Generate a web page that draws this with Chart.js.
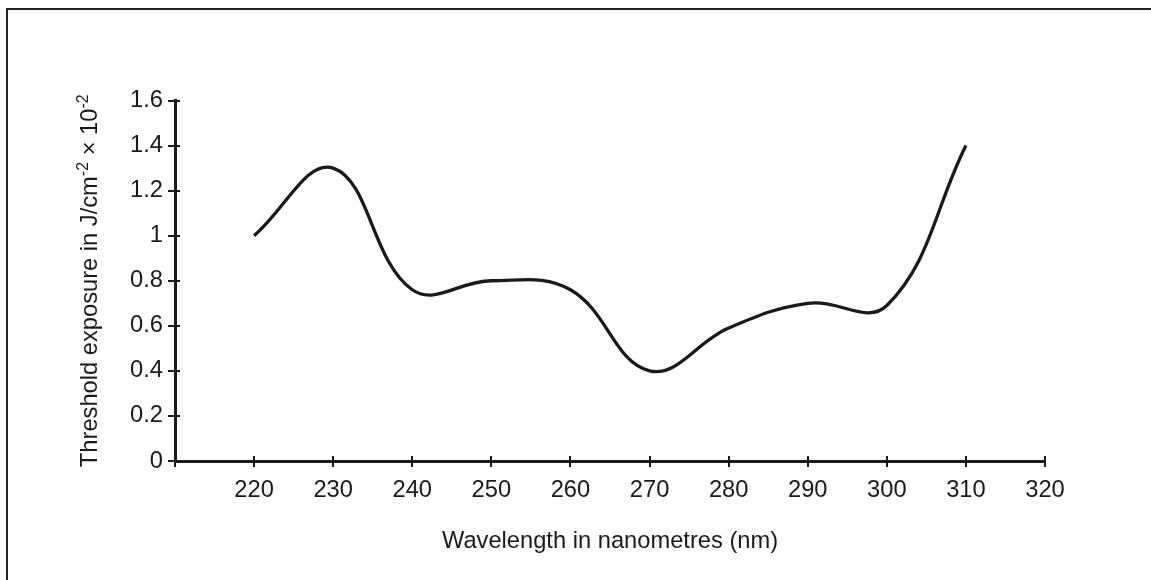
<!DOCTYPE html>
<html>
<head>
<meta charset="utf-8">
<script src="https://cdn.jsdelivr.net/npm/chart.js@4.4.1/dist/chart.umd.min.js"></script>
<style>
  html, body { margin: 0; padding: 0; background: #ffffff; }
  #wrap { position: relative; width: 1151px; height: 580px; overflow: hidden; }
  #frame { position: absolute; left: 6px; top: 8px; right: -10px; bottom: -10px;
           border-left: 2px solid #222; border-top: 2px solid #222; pointer-events: none; }
  canvas { position: absolute; left: 0; top: 0; }
</style>
</head>
<body>
<div id="wrap">
  <canvas id="c" width="1151" height="580"></canvas>
  <div id="frame"></div>
</div>
<script>
// ---- data ----
const wavelengths = [220, 230, 240, 250, 260, 270, 280, 290, 300, 310];
const exposure    = [1.0, 1.30, 0.76, 0.80, 0.76, 0.40, 0.59, 0.70, 0.69, 1.40];
const xTicks = [210, 220, 230, 240, 250, 260, 270, 280, 290, 300, 310, 320];
const xTickLabels = ['', '220', '230', '240', '250', '260', '270', '280', '290', '300', '310', '320'];
const yTickLabels = ['0', '0.2', '0.4', '0.6', '0.8', '1', '1.2', '1.4', '1.6'];
const xTitle = 'Wavelength in nanometres (nm)';
const yTitleParts = [
  { text: 'Threshold exposure in J/cm', sup: false },
  { text: '-2', sup: true },
  { text: ' \u00d7 10', sup: false },
  { text: '-2', sup: true }
];

const FONT = '"Liberation Sans", Arial, sans-serif';
const INK = '#1a1a1a';
const FS = 23.7;

const crossTicks = {
  id: 'crossTicks',
  afterDraw(chart) {
    const ctx = chart.ctx;
    const xs = chart.scales.x, ys = chart.scales.y;
    const ax = chart.chartArea.left, ay = chart.chartArea.bottom;
    ctx.save();
    ctx.strokeStyle = INK;
    ctx.lineWidth = 2;
    ctx.beginPath();
    xs.ticks.forEach(t => {
      const px = Math.round(xs.getPixelForValue(t.value));
      if (t.value === 210) { ctx.moveTo(px, ay); ctx.lineTo(px, ay + 6); }
      else { ctx.moveTo(px, ay - 5); ctx.lineTo(px, ay + 6); }
    });
    ys.ticks.forEach(t => {
      const py = Math.round(ys.getPixelForValue(t.value));
      ctx.moveTo(ax - 7, py); ctx.lineTo(ax + 5, py);
    });
    ctx.stroke();
    ctx.restore();
  }
};

const yTitle = {
  id: 'yTitle',
  afterDraw(chart) {
    const ctx = chart.ctx;
    const area = chart.chartArea;
    const cy = (area.top + area.bottom) / 2;
    const mainFont = FS + 'px ' + FONT;
    const supFont = '16px ' + FONT;
    ctx.save();
    let total = 0;
    yTitleParts.forEach(p => {
      ctx.font = p.sup ? supFont : mainFont;
      p.w = ctx.measureText(p.text).width;
      total += p.w;
    });
    ctx.translate(97, cy);
    ctx.rotate(-Math.PI / 2);
    ctx.fillStyle = INK;
    ctx.textBaseline = 'alphabetic';
    ctx.textAlign = 'left';
    let x = -total / 2;
    yTitleParts.forEach(p => {
      ctx.font = p.sup ? supFont : mainFont;
      ctx.fillText(p.text, x, p.sup ? -9 : 0);
      x += p.w;
    });
    ctx.restore();
  }
};

new Chart(document.getElementById('c'), {
  type: 'line',
  data: {
    datasets: [{
      data: wavelengths.map((w, i) => ({ x: w, y: exposure[i] })),
      borderColor: INK,
      borderWidth: 3.3,
      pointRadius: 0,
      fill: false,
      tension: 0.4,
      cubicInterpolationMode: 'default'
    }]
  },
  options: {
    responsive: false,
    animation: false,
    events: [],
    layout: { padding: { left: 0, top: 100.5, right: 106, bottom: 0 } },
    plugins: { legend: { display: false }, tooltip: { enabled: false }, title: { display: false } },
    scales: {
      x: {
        type: 'linear',
        min: 210, max: 320,
        afterBuildTicks(scale) { scale.ticks = xTicks.map(v => ({ value: v })); },
        afterFit(scale) { scale.height = 119; },
        grid: { display: false, drawTicks: false },
        border: { display: true, color: INK, width: 3 },
        ticks: {
          autoSkip: false,
          maxRotation: 0,
          padding: 15,
          color: INK,
          font: { family: FONT, size: FS },
          callback(v) { const i = xTicks.indexOf(v); return i >= 0 ? xTickLabels[i] : ''; }
        },
        title: {
          display: true,
          text: xTitle,
          color: INK,
          font: { family: FONT, size: FS },
          padding: { top: 0, bottom: 24 }
        }
      },
      y: {
        min: 0, max: 1.6,
        afterBuildTicks(scale) { scale.ticks = yTickLabels.map(s => ({ value: parseFloat(s) })); },
        afterFit(scale) { scale.width = 175; },
        grid: { display: false, drawTicks: false },
        border: { display: true, color: INK, width: 3 },
        ticks: {
          autoSkip: false,
          padding: 12,
          color: INK,
          font: { family: FONT, size: FS },
          callback(v) { const i = yTickLabels.findIndex(s => Math.abs(parseFloat(s) - v) < 1e-9); return i >= 0 ? yTickLabels[i] : ''; }
        }
      }
    }
  },
  plugins: [crossTicks, yTitle]
});
</script>
</body>
</html>
